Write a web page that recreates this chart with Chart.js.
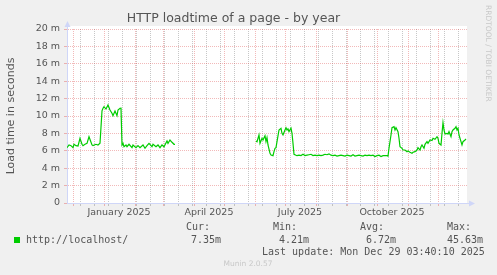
<!DOCTYPE html>
<html lang="en">
<head>
<meta charset="UTF-8">
<title>HTTP loadtime of a page - by year</title>
<script src="https://cdn.jsdelivr.net/npm/chart.js"></script>
<style>
  html, body { margin: 0; padding: 0; background: #F0F0F0; }
</style>
</head>
<body>
<canvas id="loadChart" width="497" height="275"></canvas>
<script>
// x = days since 25 Nov 2024 (graph covers 400 days), y = load time in ms
const days = [
  0, 2, 4, 6, 7, 9, 11, 13, 15, 16, 18, 20, 22, 25, 26, 29, 31, 33, 35, 36,
  37, 39, 41, 43, 45, 46, 48, 50, 51, 53, 54, 55, 56, 57, 59, 60, 62, 65, 66, 69,
  71, 73, 76, 78, 80, 82, 85, 86, 89, 91, 93, 95, 97, 100, 101, 103, 105, 107, 108,
  140,
  189, 190, 192, 193, 195, 196, 198, 199, 200, 201, 203, 204, 206, 207, 208, 209, 210, 212, 214, 215,
  216, 218, 219, 220, 221, 222, 224, 225, 226, 227, 230, 232, 234, 236, 238, 240, 242, 244, 246, 248,
  250, 252, 254, 256, 258, 260, 262, 264, 266, 268, 270, 272, 274, 276, 278, 280, 282, 284, 286, 288,
  290, 292, 294, 296, 298, 300, 302, 304, 306, 308, 310, 312, 314, 316, 318, 320, 321, 322, 324, 325,
  327, 328, 329, 331, 332, 333, 335, 336, 338, 340, 341, 343, 345, 346, 348, 350, 351, 353, 354, 355,
  357, 358, 360, 361, 363, 365, 366, 368, 370, 371, 372, 374, 375, 376, 377, 378, 380, 381, 382, 384,
  385, 386, 388, 389, 390, 391, 392, 394, 395, 396, 398, 399
];
const loadMs = [
  6.36, 6.67, 6.59, 6.36, 6.75, 6.59, 6.55, 7.44, 6.75, 6.59, 6.75, 6.86, 7.62, 6.67, 6.59, 6.75, 6.67, 6.86, 10.6, 10.9,
  11.07, 10.8, 11.26, 10.69, 10.31, 10.03, 10.57, 10.03, 10.69, 10.89, 10.9, 6.67, 6.86, 6.47, 6.67, 6.47, 6.75, 6.36, 6.67, 6.36,
  6.59, 6.36, 6.67, 6.29, 6.59, 6.86, 6.47, 6.75, 6.47, 6.67, 6.36, 6.67, 6.47, 7.13, 6.86, 7.24, 6.98, 6.75, 6.75,
  null,
  7.13, 7.05, 7.82, 6.86, 7.44, 7.24, 7.74, 7.05, 7.51, 6.67, 5.71, 5.52, 5.44, 5.9, 6.29, 6.36, 7.05, 8.39, 8.59, 8.01,
  7.82, 8.39, 8.66, 8.39, 8.51, 8.2, 8.59, 8.01, 6.86, 5.6, 5.44, 5.5, 5.45, 5.6, 5.45, 5.5, 5.55, 5.6, 5.45, 5.5,
  5.45, 5.5, 5.45, 5.5, 5.6, 5.55, 5.65, 5.5, 5.45, 5.5, 5.4, 5.45, 5.5, 5.45, 5.4, 5.5, 5.45, 5.4, 5.55, 5.4,
  5.45, 5.5, 5.45, 5.4, 5.5, 5.45, 5.5, 5.45, 5.5, 5.35, 5.45, 5.5, 5.35, 5.45, 5.45, 5.45, 5.4, 6.29, 7.82, 8.66,
  8.77, 8.39, 8.66, 8.2, 7.44, 6.47, 6.29, 6.09, 6.09, 5.9, 5.98, 5.83, 5.71, 5.83, 5.9, 6.09, 6.36, 6.09, 6.47, 6.67,
  6.29, 6.75, 7.05, 6.86, 7.24, 7.18, 7.44, 7.32, 7.62, 7.44, 6.86, 6.67, 8.01, 9.23, 8.39, 7.93, 8.01, 7.93, 8.2, 7.62,
  8.2, 8.39, 8.59, 8.77, 8.39, 8.59, 7.82, 7.05, 6.67, 7.05, 7.24, 7.35
];

const seriesName = 'http://localhost/';
const statNames = ['Cur:', 'Min:', 'Avg:', 'Max:'];
const statValues = ['7.35m', '4.21m', '6.72m', '45.63m'];
const lastUpdate = 'Last update: Mon Dec 29 03:40:10 2025';

const yTickValues = [0, 2, 4, 6, 8, 10, 12, 14, 16, 18, 20];
const xLabelMonths = [0, 3, 6, 9];   // 2025
const xLabels = ['January 2025', 'April 2025', 'July 2025', 'October 2025'];

const RANGE = 400;
const DAY = 86400000;
const startDay = Date.UTC(2024, 10, 25);
const dayOf = (y, m, d) => (Date.UTC(y, m, d) - startDay) / DAY;

const majorGrid = 'rgba(222, 79, 79, 0.4)';
const minorGrid = 'rgba(143, 143, 143, 0.5)';
const axisColor = '#CFD6F8';
const fontColor = '#555555';

function buildXTicks(scale) {
  const t = [];
  for (let i = 0; i < 14; i++) {
    const d = dayOf(2024, 11 + i, 1);
    if (d <= RANGE) t.push({ value: d, kind: 'major' });
  }
  for (let d = dayOf(2024, 11, 8); d <= RANGE; d += 14) t.push({ value: d, kind: 'minor' });
  xLabelMonths.forEach((m, i) => {
    t.push({ value: dayOf(2025, m, 1) + 15, kind: 'label', text: xLabels[i] });
  });
  t.sort((a, b) => a.value - b.value);
  scale.ticks = t;
}

const gridFor = c => c.tick && c.tick.kind === 'major' ? majorGrid : (c.tick && c.tick.kind === 'minor' ? minorGrid : 'rgba(0,0,0,0)');

const points = days.map((d, i) => ({ x: d, y: loadMs[i] }));

const munin = {
  id: 'munin',
  beforeDraw(chart) {
    const { ctx, chartArea: a } = chart;
    ctx.save();
    ctx.fillStyle = '#F0F0F0';
    ctx.fillRect(0, 0, chart.width, chart.height);
    ctx.fillStyle = '#FFFFFF';
    ctx.fillRect(a.left, a.top - 3, a.right - a.left, a.bottom - a.top + 3);
    ctx.restore();
  },
  afterDraw(chart) {
    const { ctx, chartArea: a } = chart;
    ctx.save();
    // axis arrows
    ctx.strokeStyle = axisColor;
    ctx.fillStyle = axisColor;
    ctx.lineWidth = 1;
    ctx.beginPath();
    ctx.moveTo(a.left + 0.5, a.top);
    ctx.lineTo(a.left + 0.5, a.top - 3);
    ctx.moveTo(a.right, a.bottom + 0.5);
    ctx.lineTo(a.right + 3, a.bottom + 0.5);
    ctx.stroke();
    ctx.beginPath();
    ctx.moveTo(a.left + 0.5, a.top - 8);
    ctx.lineTo(a.left - 2.5, a.top - 2);
    ctx.lineTo(a.left + 3.5, a.top - 2);
    ctx.closePath();
    ctx.fill();
    ctx.beginPath();
    ctx.moveTo(a.right + 8, a.bottom + 0.5);
    ctx.lineTo(a.right + 2, a.bottom - 2.5);
    ctx.lineTo(a.right + 2, a.bottom + 3.5);
    ctx.closePath();
    ctx.fill();

    // legend block
    ctx.fillStyle = '#00CC00';
    ctx.fillRect(14, 237, 6, 6);
    ctx.fillStyle = fontColor;
    ctx.font = '10px "DejaVu Sans Mono"';
    ctx.textBaseline = 'middle';
    ctx.textAlign = 'left';
    ctx.fillText(seriesName, 26, 240);
    const colX = [186, 273, 360, 447];
    const valX = [191, 279, 366, 447];
    statNames.forEach((n, i) => ctx.fillText(n, colX[i], 227));
    statValues.forEach((v, i) => ctx.fillText(v, valX[i], 240));
    ctx.fillText(lastUpdate, 262, 252);

    ctx.fillStyle = '#C8C8C8';
    ctx.font = '7.5px "DejaVu Sans"';
    ctx.textAlign = 'center';
    ctx.fillText('Munin 2.0.57', 248, 264);

    ctx.translate(488, 5);
    ctx.rotate(Math.PI / 2);
    ctx.textAlign = 'left';
    ctx.fillText('RRDTOOL / TOBI OETIKER', 0, 0);
    ctx.restore();
  }
};

Chart.defaults.font.family = 'DejaVu Sans';
Chart.defaults.color = fontColor;

new Chart(document.getElementById('loadChart').getContext('2d'), {
  type: 'line',
  data: {
    datasets: [{
      label: seriesName,
      data: points,
      borderColor: '#00CC00',
      borderWidth: 1.2,
      pointRadius: 0,
      tension: 0,
      spanGaps: false,
      fill: false
    }]
  },
  options: {
    responsive: false,
    animation: false,
    layout: { padding: { left: 0, right: 30, top: 0, bottom: 52 } },
    plugins: {
      legend: { display: false },
      tooltip: { enabled: false },
      title: {
        display: true,
        text: 'HTTP loadtime of a page - by year',
        color: fontColor,
        font: { size: 12.5, weight: 'normal' },
        padding: { top: 11, bottom: 3 }
      }
    },
    scales: {
      x: {
        type: 'linear',
        min: 0,
        max: RANGE,
        afterBuildTicks: buildXTicks,
        afterFit: s => { s.height = 20; },
        ticks: {
          autoSkip: false,
          maxRotation: 0,
          minRotation: 0,
          padding: 1,
          font: { size: 9.5 },
          callback: (v, i, ticks) => ticks[i].kind === 'label' ? ticks[i].text : ''
        },
        grid: {
          tickLength: 3,
          color: gridFor,
          tickColor: gridFor
        },
        border: { display: true, color: axisColor, dash: [1, 1] }
      },
      y: {
        min: 0,
        max: 20,
        afterFit: s => { s.width = 67; },
        ticks: {
          stepSize: 1,
          padding: 4,
          font: { size: 9.5 },
          callback: v => yTickValues.includes(v) ? (v === 0 ? '0' : v + ' m') : ''
        },
        grid: {
          tickLength: 3,
          color: c => c.tick && c.tick.value % 2 === 0 ? majorGrid : minorGrid,
          tickColor: c => c.tick && c.tick.value % 2 === 0 ? majorGrid : minorGrid
        },
        border: { display: true, color: axisColor, dash: [1, 1] },
        title: {
          display: true,
          text: 'Load time in seconds',
          color: fontColor,
          font: { size: 11 },
          padding: { top: 5, bottom: 0 }
        }
      }
    }
  },
  plugins: [munin]
});
</script>
</body>
</html>
